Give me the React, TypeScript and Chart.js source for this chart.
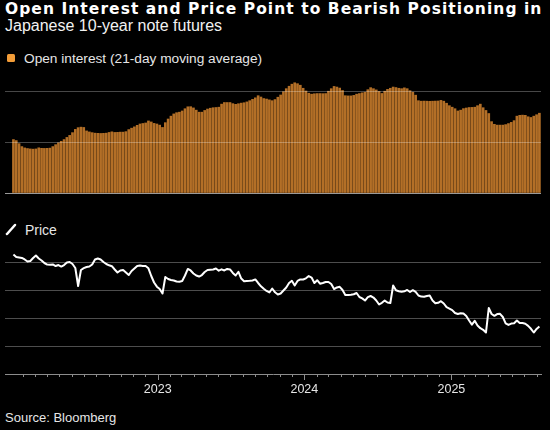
import React, { useEffect, useRef } from "react";
import { Chart, registerables } from "chart.js";

Chart.register(...registerables);

const TITLE = "Open Interest and Price Point to Bearish Positioning in JGBs";
const SUBTITLE = "Japanese 10-year note futures";
const OI_LABEL = "Open interest (21-day moving average)";
const PRICE_LABEL = "Price";
const SOURCE = "Source: Bloomberg";

// weekly observations, first one on this date
const firstWeek = "2022-01-07";
const axisStart = "2021-12-17";
const axisEnd = "2025-08-12";
const firstTickMonth = "2022-02-01";

// open interest, thousands of contracts (21-day moving average), weekly
const oi2022 = [
  52.5, 51.5, 48.5, 45.6, 44.3, 43.7, 43.3, 43.1, 43.3, 44.4,
  43.9, 43.8, 43.9, 44.1, 45.6, 47.5, 49.3, 50.8, 52.5, 54.6,
  56.6, 59.3, 62.5, 64.2, 64.7, 64.4, 61.0, 60.0, 59.3, 58.8,
  58.6, 58.5, 58.6, 58.8, 59.5, 60.1, 59.5, 59.6, 59.8, 59.8,
  60.3, 62.3, 63.7, 65.0, 66.5, 67.8, 68.3, 68.8, 70.8, 69.8,
  68.4, 67.8,
];
const oi2023 = [
  66.7, 64.4, 69.1, 72.7, 75.5, 77.7, 78.9, 79.4, 80.6, 82.8,
  84.7, 84.8, 83.6, 81.4, 79.4, 79.4, 81.1, 82.5, 83.3, 83.8,
  84.0, 84.3, 87.3, 88.9, 88.9, 88.9, 87.8, 87.1, 87.7, 88.3,
  88.7, 89.5, 90.7, 92.0, 93.5, 95.6, 94.3, 92.8, 92.3, 91.5,
  90.7, 91.8, 94.1, 96.3, 99.5, 102.5, 104.9, 106.9, 108.3, 107.4,
  105.9, 102.9,
];
const oi2024 = [
  100.2, 98.0, 97.1, 97.5, 97.7, 97.7, 97.6, 97.7, 100.0, 102.5,
  104.7, 104.1, 103.1, 100.7, 95.6, 95.4, 95.4, 95.9, 97.1, 97.7,
  98.4, 99.0, 101.5, 103.5, 102.5, 101.3, 99.8, 97.8, 100.0, 101.8,
  102.9, 104.1, 103.6, 102.9, 102.5, 103.3, 102.5, 100.5, 99.0, 96.1,
  90.7, 90.2, 90.3, 90.2, 90.1, 90.2, 90.3, 90.4, 91.0, 90.2,
  88.2, 85.8,
];
const oi2025 = [
  84.3, 82.8, 80.6, 81.4, 82.9, 83.5, 84.0, 84.1, 84.3, 85.8,
  87.3, 83.8, 81.1, 78.1, 70.1, 67.5, 66.7, 66.7, 66.7, 67.2,
  68.2, 69.4, 71.1, 75.5, 76.3, 76.5, 76.3, 74.9, 74.2, 75.5,
  76.9, 78.4,
];

// futures price, weekly
const price2022 = [
  151.40, 150.96, 150.87, 150.78, 150.51, 150.15, 150.24, 150.78, 151.22, 150.69,
  150.33, 149.88, 149.61, 149.58, 149.62, 149.34, 149.52, 149.25, 149.52, 149.97,
  150.06, 149.70, 148.99, 145.76, 148.63, 148.95, 149.16, 149.25, 149.61, 150.51,
  150.69, 150.50, 150.06, 149.70, 149.47, 149.31, 148.72, 148.18, 148.54, 148.63,
  148.18, 147.73, 148.45, 148.90, 149.34, 149.43, 149.35, 149.33, 148.93, 147.55,
  146.39, 145.64,
];
const price2023 = [
  145.22, 144.42, 147.37, 147.02, 146.84, 146.75, 146.57, 146.53, 146.66, 147.64,
  148.81, 148.54, 148.00, 147.64, 147.46, 147.73, 148.27, 148.63, 148.68, 148.72,
  148.90, 148.50, 148.74, 148.54, 148.81, 148.72, 148.09, 147.64, 148.31, 147.10,
  146.62, 146.66, 146.69, 146.75, 146.94, 146.30, 145.71, 145.26, 144.87, 144.60,
  145.31, 144.63, 144.24, 144.42, 144.96, 145.49, 146.30, 146.69, 145.85, 146.66,
  146.93, 146.92,
];
const price2024 = [
  147.14, 147.55, 147.28, 146.30, 146.80, 146.17, 146.30, 146.48, 146.47, 146.12,
  145.22, 145.51, 145.62, 145.05, 144.15, 144.14, 144.19, 144.28, 144.51, 143.79,
  143.54, 143.16, 143.78, 143.97, 143.70, 143.16, 142.45, 142.75, 143.15, 142.81,
  142.72, 145.85, 144.99, 144.83, 144.74, 144.81, 145.05, 144.69, 145.01, 144.72,
  144.06, 143.86, 143.84, 143.97, 144.05, 143.16, 142.68, 142.75, 143.04, 142.63,
  141.96, 141.71,
];
const price2025 = [
  141.45, 140.93, 140.75, 140.89, 140.84, 140.39, 139.58, 138.85, 139.53, 138.69,
  138.20, 137.92, 137.43, 141.82, 140.75, 140.42, 140.74, 140.78, 140.21, 139.08,
  138.78, 139.03, 139.08, 139.57, 139.13, 139.12, 138.99, 138.63, 138.10, 137.43,
  138.06, 138.51,
];

const oiGridValues = [0, 50, 100];
const oiMin = 0;
const oiMax = 112;
const priceGridValues = [135, 140, 145, 150];
const priceMin = 130;
const priceMax = 154;

const DAY = 86400000;
const openInterest = [...oi2022, ...oi2023, ...oi2024, ...oi2025];
const price = [...price2022, ...price2023, ...price2024, ...price2025];
const weekTimes = openInterest.map((_, i) => Date.parse(firstWeek) + i * 7 * DAY);
const xMin = Date.parse(axisStart);
const xMax = Date.parse(axisEnd);

function monthTicks() {
  const out: { value: number; major: boolean }[] = [];
  const s = new Date(Date.parse(firstTickMonth));
  let y = s.getUTCFullYear();
  let m = s.getUTCMonth();
  for (;;) {
    if (m > 11) {
      m = 0;
      y++;
    }
    const t = Date.UTC(y, m, 1);
    if (t > xMax) break;
    out.push({ value: t, major: m === 0 });
    m++;
  }
  return out;
}

const FONT = "'Liberation Sans', Arial, sans-serif";

const tickMarkPlugin = {
  id: "monthTickMarks",
  afterDraw(chart: any) {
    const sc = chart.scales.x;
    const ctx = chart.ctx;
    const yb = chart.chartArea.bottom;
    ctx.save();
    ctx.strokeStyle = "#8c8c8c";
    ctx.lineWidth = 1;
    sc.ticks.forEach((t: any) => {
      const px = Math.round(sc.getPixelForValue(t.value)) + 0.5;
      ctx.beginPath();
      ctx.moveTo(px, yb);
      ctx.lineTo(px, yb + (t.major ? 6 : 3));
      ctx.stroke();
    });
    ctx.restore();
  },
};

export default function App() {
  const topRef = useRef<HTMLCanvasElement>(null);
  const botRef = useRef<HTMLCanvasElement>(null);

  useEffect(() => {
    document.body.style.background = "#000";
    const months = monthTicks();
    const top = new Chart(topRef.current!, {
      type: "bar",
      data: {
        datasets: [
          {
            data: weekTimes.map((x, i) => ({ x, y: openInterest[i] })),
            backgroundColor: "#b36f27",
            borderWidth: 0,
            barThickness: 2,
          },
        ],
      },
      options: {
        animation: false,
        responsive: false,
        maintainAspectRatio: false,
        layout: { padding: { left: 5, right: 9, top: 1, bottom: 1 } },
        plugins: { legend: { display: false }, tooltip: { enabled: false } },
        scales: {
          x: {
            type: "linear",
            min: xMin,
            max: xMax,
            offset: false,
            display: false,
            grid: { offset: false },
          },
          y: {
            min: oiMin,
            max: oiMax,
            afterBuildTicks: (s: any) => {
              s.ticks = oiGridValues.map((v) => ({ value: v }));
            },
            afterFit: (s: any) => {
              s.width = 0;
            },
            ticks: { display: false },
            border: { display: false },
            grid: {
              drawTicks: false,
              z: 1,
              color: (c: any) =>
                c.tick && c.tick.value === 0 ? "#9a9a9a" : "rgba(255,255,255,0.28)",
            },
          },
        },
      } as any,
    });

    const bot = new Chart(botRef.current!, {
      type: "line",
      data: {
        datasets: [
          {
            data: weekTimes.map((x, i) => ({ x, y: price[i] })),
            borderColor: "#ffffff",
            borderWidth: 2,
            pointRadius: 0,
            tension: 0,
            borderJoinStyle: "round",
          },
        ],
      },
      options: {
        animation: false,
        responsive: false,
        maintainAspectRatio: false,
        layout: { padding: { left: 5, right: 9, top: 4, bottom: 0 } },
        plugins: { legend: { display: false }, tooltip: { enabled: false } },
        scales: {
          x: {
            type: "linear",
            min: xMin,
            max: xMax,
            afterBuildTicks: (s: any) => {
              s.ticks = months.map((t) => ({ value: t.value, major: t.major }));
            },
            afterFit: (s: any) => {
              s.height = 26;
              s.paddingLeft = 0;
              s.paddingRight = 0;
            },
            grid: { display: false, drawTicks: false, tickLength: 0 },
            border: { display: true, color: "#8c8c8c", width: 1 },
            ticks: {
              autoSkip: false,
              maxRotation: 0,
              minRotation: 0,
              padding: 8,
              color: "#e6e6e6",
              font: { family: FONT, size: 12.5 },
              callback: (v: any, i: number, ticks: any[]) =>
                ticks[i] && ticks[i].major ? String(new Date(v).getUTCFullYear()) : "",
            },
          },
          y: {
            min: priceMin,
            max: priceMax,
            afterBuildTicks: (s: any) => {
              s.ticks = priceGridValues.map((v) => ({ value: v }));
            },
            afterFit: (s: any) => {
              s.width = 0;
            },
            ticks: { display: false },
            border: { display: false },
            grid: { drawTicks: false, color: "rgba(255,255,255,0.3)" },
          },
        },
      } as any,
      plugins: [tickMarkPlugin],
    });

    return () => {
      top.destroy();
      bot.destroy();
    };
  }, []);

  const txt = (s: React.CSSProperties): React.CSSProperties => ({
    position: "absolute",
    whiteSpace: "nowrap",
    margin: 0,
    ...s,
  });

  return (
    <div
      style={{
        position: "fixed",
        left: 0,
        top: 0,
        width: 550,
        height: 430,
        background: "#000",
        overflow: "hidden",
        color: "#fff",
      }}
    >
      <div
        style={txt({
          left: 5,
          top: 0,
          width: 536,
          overflow: "hidden",
          font: "bold 15.5px 'DejaVu Sans', Verdana, sans-serif",
          letterSpacing: "1.05px",
          lineHeight: "18px",
          color: "#ffffff",
        })}
      >
        {TITLE}
      </div>
      <div style={txt({ left: 5, top: 17, font: `16px ${FONT}`, lineHeight: "18px", color: "#f2f2f2" })}>
        {SUBTITLE}
      </div>
      <div
        style={{
          position: "absolute",
          left: 7,
          top: 53.5,
          width: 8,
          height: 8,
          borderRadius: 1.5,
          background: "#f29c38",
        }}
      />
      <div style={txt({ left: 24, top: 50.5, font: `13.7px ${FONT}`, lineHeight: "16px", color: "#e6e6e6" })}>
        {OI_LABEL}
      </div>
      <canvas
        ref={topRef}
        width={550}
        height={116}
        style={{ position: "absolute", left: 0, top: 78, width: 550, height: 116 }}
      />
      <svg style={{ position: "absolute", left: 5, top: 223 }} width={12} height={13}>
        <line x1={2} y1={11} x2={10} y2={2} stroke="#ffffff" strokeWidth={2.5} strokeLinecap="round" />
      </svg>
      <div style={txt({ left: 25, top: 221.5, font: `14px ${FONT}`, lineHeight: "16px", color: "#e6e6e6" })}>
        {PRICE_LABEL}
      </div>
      <canvas
        ref={botRef}
        width={550}
        height={164}
        style={{ position: "absolute", left: 0, top: 236, width: 550, height: 164 }}
      />
      <div style={txt({ left: 5, top: 410, font: `13px ${FONT}`, lineHeight: "15px", color: "#e6e6e6" })}>
        {SOURCE}
      </div>
    </div>
  );
}
